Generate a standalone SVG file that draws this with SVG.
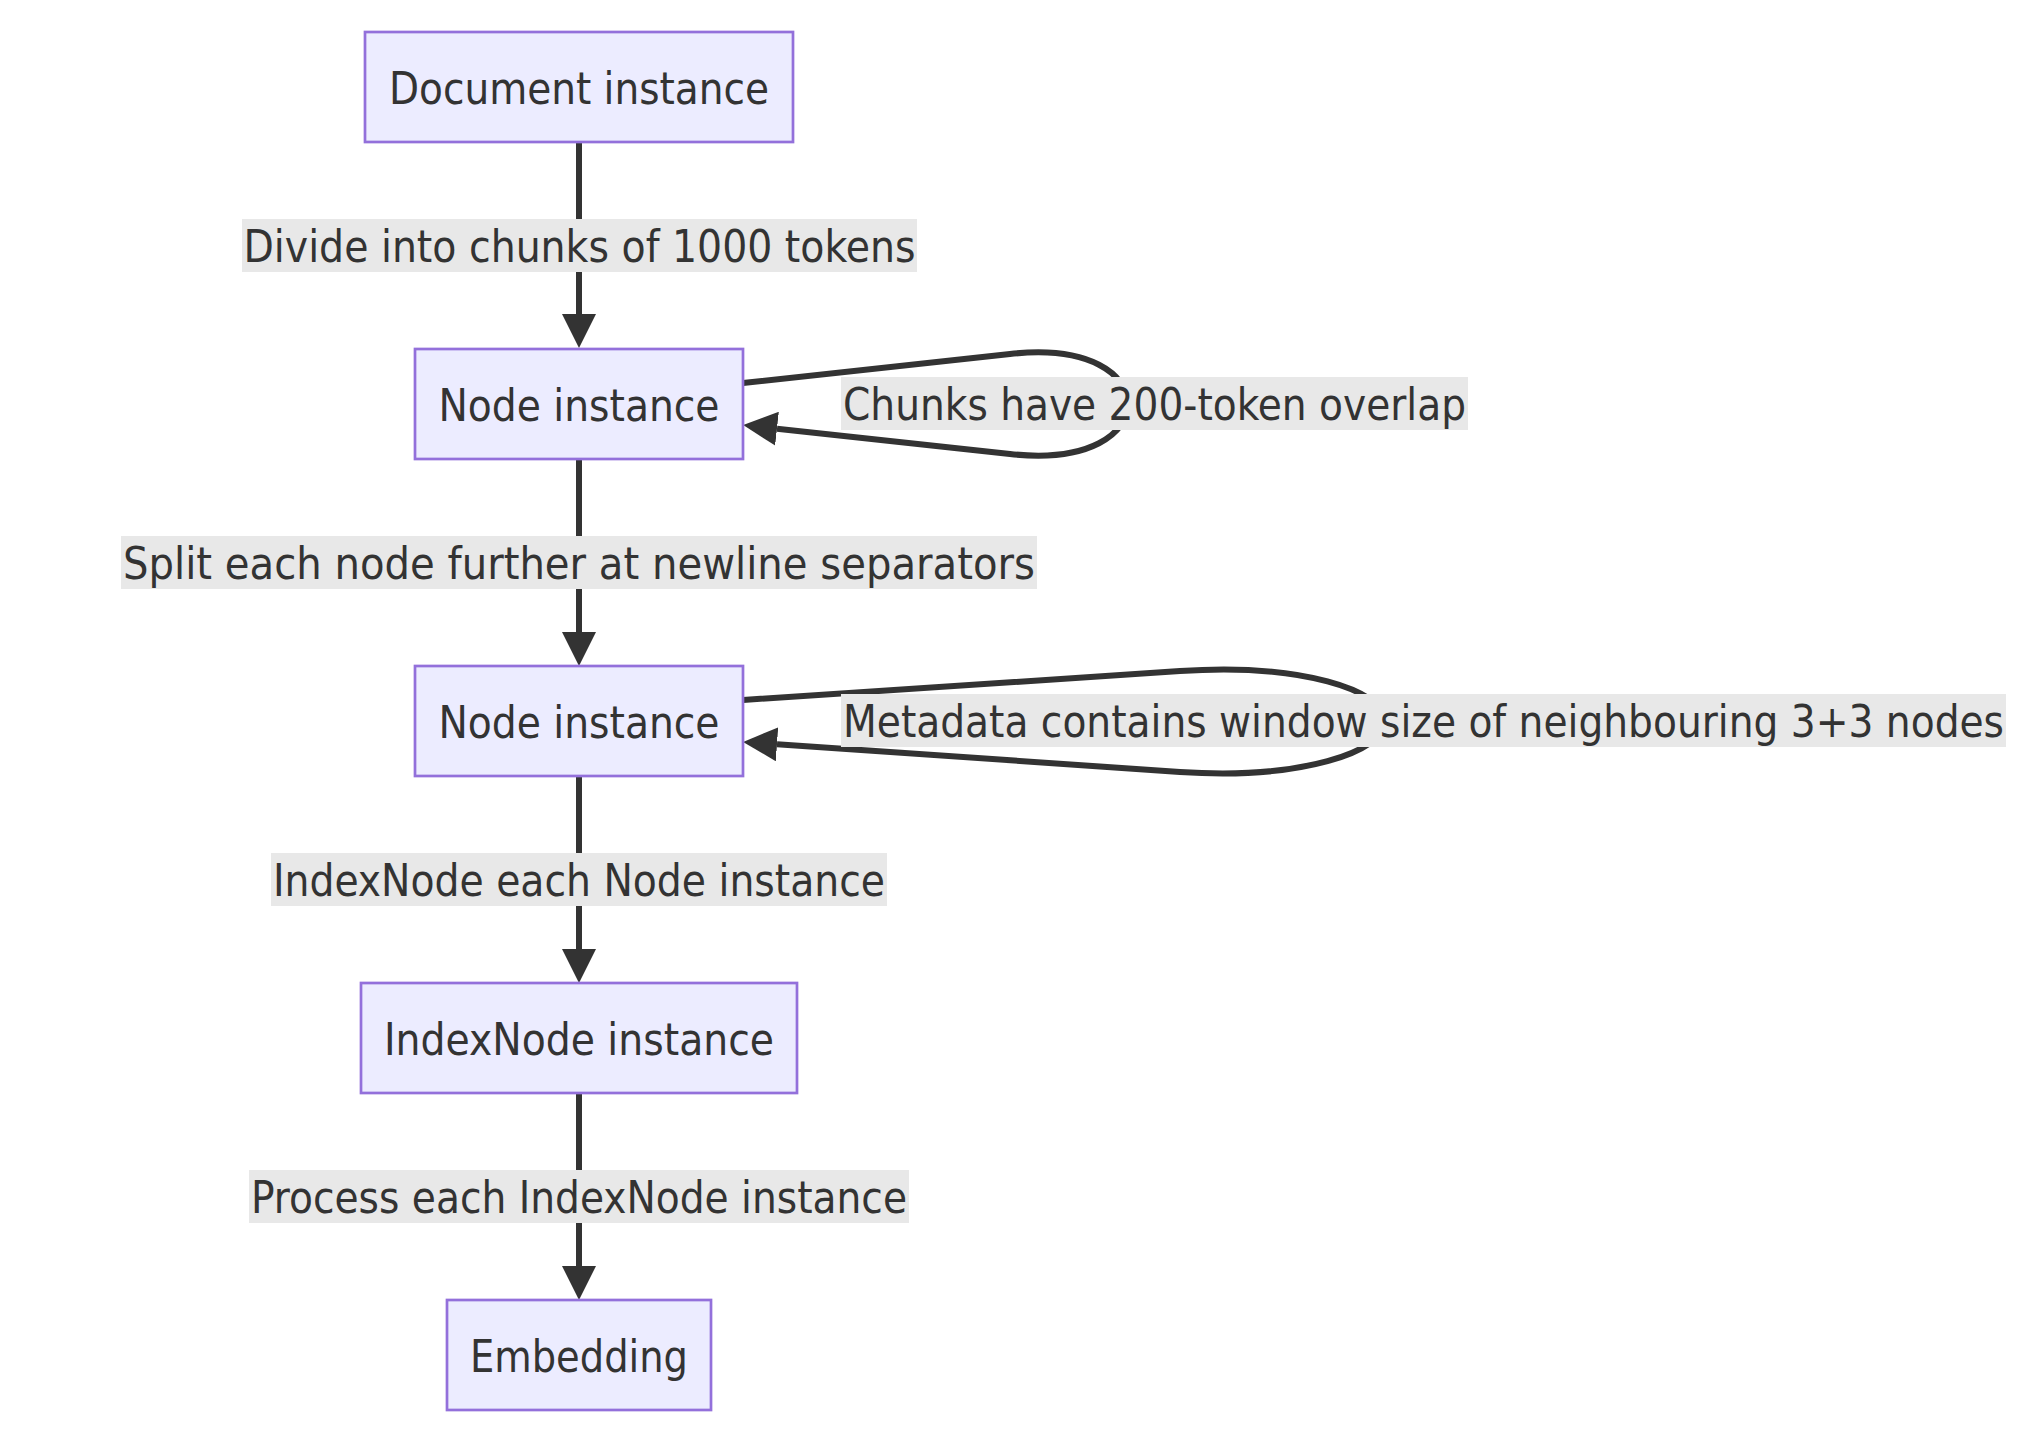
<svg xmlns="http://www.w3.org/2000/svg" width="2042" height="1432" viewBox="0 0 2042 1432">
  <style>
    .node rect { fill: #ECECFF; stroke: #9370DB; stroke-width: 2.7; }
    .lbl { font-family: "DejaVu Sans Condensed", "DejaVu Sans", "Liberation Sans", sans-serif; font-stretch: condensed; font-size: 44px; fill: #333333; text-anchor: middle; }
    .edge { fill: none; stroke: #333333; stroke-width: 6; }
    .elbg { fill: #E8E8E8; }
  </style>
  <defs>
    <marker id="arrow" viewBox="0 0 10 10" refX="0" refY="5" markerUnits="userSpaceOnUse" markerWidth="34" markerHeight="34" orient="auto">
      <path d="M0,0 L10,5 L0,10 z" fill="#333333"/>
    </marker>
  </defs>
  <rect x="0" y="0" width="2042" height="1432" fill="#FFFFFF"/>

  <g id="connectors">
    <path class="edge" d="M579,142 L579,314" marker-end="url(#arrow)"/>
    <path class="edge" d="M743,383 L1010,354 C1090,345 1128,375 1128,404 C1128,433 1090,463 1010,454 L777,428.7" marker-end="url(#arrow)"/>
    <path class="edge" d="M579,459 L579,632" marker-end="url(#arrow)"/>
    <path class="edge" d="M743,700 L1180,671 C1300,663 1385,690 1385,721 C1385,752 1300,780 1180,772 L777,744.3" marker-end="url(#arrow)"/>
    <path class="edge" d="M579,776 L579,949" marker-end="url(#arrow)"/>
    <path class="edge" d="M579,1093 L579,1266" marker-end="url(#arrow)"/>
  </g>

  <g id="edge-labels">
    <g id="label-divide">
      <rect class="elbg" x="242" y="219" width="675" height="53"/>
      <text class="lbl" x="579.5" y="262" textLength="672" lengthAdjust="spacingAndGlyphs">Divide into chunks of 1000 tokens</text>
    </g>
    <g id="label-overlap">
      <rect class="elbg" x="841" y="377" width="627" height="53"/>
      <text class="lbl" x="1154.5" y="420" textLength="623" lengthAdjust="spacingAndGlyphs">Chunks have 200-token overlap</text>
    </g>
    <g id="label-split">
      <rect class="elbg" x="121" y="536" width="916" height="53"/>
      <text class="lbl" x="579" y="579" textLength="912" lengthAdjust="spacingAndGlyphs">Split each node further at newline separators</text>
    </g>
    <g id="label-metadata">
      <rect class="elbg" x="841" y="694" width="1165" height="53"/>
      <text class="lbl" x="1423.5" y="737" textLength="1161" lengthAdjust="spacingAndGlyphs">Metadata contains window size of neighbouring 3+3 nodes</text>
    </g>
    <g id="label-indexnode">
      <rect class="elbg" x="271" y="853" width="616" height="53"/>
      <text class="lbl" x="579" y="896" textLength="612" lengthAdjust="spacingAndGlyphs">IndexNode each Node instance</text>
    </g>
    <g id="label-process">
      <rect class="elbg" x="249" y="1170" width="660" height="53"/>
      <text class="lbl" x="579" y="1213" textLength="656" lengthAdjust="spacingAndGlyphs">Process each IndexNode instance</text>
    </g>
  </g>

  <g id="node-document" class="node">
    <rect x="365" y="32" width="428" height="110"/>
    <text class="lbl" x="579" y="103.5" textLength="380" lengthAdjust="spacingAndGlyphs">Document instance</text>
  </g>
  <g id="node-node1" class="node">
    <rect x="415" y="349" width="328" height="110"/>
    <text class="lbl" x="579" y="420.5" textLength="281" lengthAdjust="spacingAndGlyphs">Node instance</text>
  </g>
  <g id="node-node2" class="node">
    <rect x="415" y="666" width="328" height="110"/>
    <text class="lbl" x="579" y="737.5" textLength="281" lengthAdjust="spacingAndGlyphs">Node instance</text>
  </g>
  <g id="node-indexnode" class="node">
    <rect x="361" y="983" width="436" height="110"/>
    <text class="lbl" x="579" y="1054.5" textLength="390" lengthAdjust="spacingAndGlyphs">IndexNode instance</text>
  </g>
  <g id="node-embedding" class="node">
    <rect x="447" y="1300" width="264" height="110"/>
    <text class="lbl" x="579" y="1371.5" textLength="218" lengthAdjust="spacingAndGlyphs">Embedding</text>
  </g>
</svg>
